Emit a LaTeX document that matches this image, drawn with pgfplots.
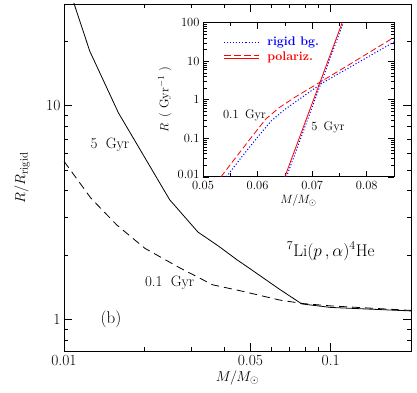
\documentclass[border=0pt]{standalone}
\usepackage{pgfplots}
\pgfplotsset{compat=1.18}
\begin{document}
\begin{tikzpicture}
\useasboundingbox (0pt,0pt) rectangle (417pt,392pt);
\begin{axis}[
  at={(64pt,41pt)}, anchor=south west,
  scale only axis, width=347pt, height=347pt,
  xmode=log, ymode=log,
  xmin=0.01, xmax=0.2, ymin=0.71, ymax=30,
  xtick={0.01,0.05,0.1}, xticklabels={0.01,0.05,0.1},
  minor xtick={0.02,0.03,0.04,0.06,0.07,0.08,0.09},
  ytick={1,10}, yticklabels={1,10},
  minor ytick={0.8,0.9,2,3,4,5,6,7,8,9,20,30},
  tick align=inside,
  major tick length=8.5pt, minor tick length=4.5pt,
  every tick/.style={black, line width=0.7pt},
  axis line style={line width=0.8pt},
  tick label style={font=\fontsize{15.5}{18}\selectfont},
  xticklabel style={yshift=-1pt},
  xlabel={$M/M_\odot$}, ylabel={$R/R_{\mathrm{rigid}}$},
  label style={font=\fontsize{15}{18}\selectfont},
  xlabel style={at={(axis description cs:0.5,-0.078)}, anchor=center},
  ylabel style={at={(axis description cs:-0.121,0.5)}, anchor=center},
]
\addplot[black, line width=0.8pt] coordinates {
(0.0107,32) (0.0109,30.2) (0.0125,18.0) (0.0160,9.27) (0.0249,3.63) (0.0318,2.56)
(0.038,2.2) (0.0445,1.9) (0.05,1.72) (0.0644,1.38) (0.0779,1.18) (0.1,1.136) (0.2,1.094)};
\addplot[black, line width=0.8pt, dash pattern=on 8pt off 5pt] coordinates {
(0.01,5.5) (0.0126,3.70) (0.01575,2.77) (0.0201,2.15) (0.0272,1.74) (0.0361,1.45)
(0.047,1.35) (0.0644,1.23) (0.0785,1.185) (0.1,1.155) (0.2,1.10)};
\node[font=\fontsize{15}{18}\selectfont] at (axis cs:0.01487,6.58) {5\hspace{0.55em}Gyr};
\node[font=\fontsize{15}{18}\selectfont] at (axis cs:0.0249,1.476) {0.1\hspace{0.55em}Gyr};
\node[font=\fontsize{17}{20}\selectfont] at (axis cs:0.015,1.0) {(b)};
\node[font=\fontsize{17}{20}\selectfont] at (axis cs:0.1,2.08) {$^7$Li$(p\,,\alpha)^4$He};
\end{axis}
\begin{axis}[
  at={(203pt,215.2pt)}, anchor=south west,
  scale only axis, width=191pt, height=154.1pt,
  ymode=log,
  xmin=0.05, xmax=0.085, ymin=0.01, ymax=100,
  axis background/.style={fill=white},
  scaled x ticks=false,
  xtick={0.05,0.06,0.07,0.08}, xticklabels={0.05,0.06,0.07,0.08},
  minor xtick={0.055,0.065,0.075},
  ytick={0.01,0.1,1,10,100}, yticklabels={\raisebox{4pt}{0.01},0.1,1,10,100},
  minor ytick={0.02,0.03,0.04,0.05,0.06,0.07,0.08,0.09,0.2,0.3,0.4,0.5,0.6,0.7,0.8,0.9,2,3,4,5,6,7,8,9,20,30,40,50,60,70,80,90},
  tick align=inside,
  major tick length=6pt, minor tick length=3.5pt,
  every tick/.style={black, line width=0.6pt},
  axis line style={line width=0.8pt},
  tick label style={font=\fontsize{12.5}{15}\selectfont},
  xticklabel style={yshift=-0.5pt},
  xlabel={$M/M_\odot$}, ylabel={$R$ \,( Gyr$^{-1}$ )},
  label style={font=\fontsize{12.5}{15}\selectfont},
  xlabel style={at={(axis description cs:0.5,-0.155)}, anchor=center},
  ylabel style={at={(axis description cs:-0.2,0.5)}, anchor=center},
  legend style={at={(axis description cs:0.105,0.915)}, anchor=north west, draw=none, fill=none,
    font=\fontsize{12.5}{15}\selectfont, inner sep=0pt, row sep=3pt, column sep=7pt,
    nodes={inner sep=1pt}},
  legend cell align=left,
]
\addlegendimage{legend image code/.code={\draw[blue, line width=1pt, dash pattern=on 1.1pt off 2pt] (0pt,0pt)--(35pt,0pt);}}
\addlegendentry{\textcolor{blue}{\bfseries rigid bg.}}
\addlegendimage{legend image code/.code={\draw[red, line width=0.8pt, dash pattern=on 7pt off 3pt] (0pt,1.5pt)--(35pt,1.5pt); \draw[red, line width=0.8pt] (0pt,-1.3pt)--(35pt,-1.3pt);}}
\addlegendentry{\textcolor{red}{\bfseries polariz.}}
\addplot[blue, line width=1pt, dash pattern=on 1.1pt off 2pt, forget plot] coordinates {
(0.0543,0.01) (0.0570,0.0316) (0.0600,0.107) (0.0625,0.282) (0.0650,0.562) (0.0680,1.12)
(0.0718,2.69) (0.0770,7.08) (0.0850,31.6)};
\addplot[red, line width=0.8pt, dash pattern=on 6pt off 3pt, forget plot] coordinates {
(0.0533,0.01) (0.0560,0.0316) (0.0590,0.112) (0.0615,0.316) (0.0640,0.631) (0.0670,1.20)
(0.0716,2.95) (0.0770,8.51) (0.0850,41.7)};
\addplot[blue, line width=1pt, dash pattern=on 1.1pt off 2pt, forget plot] coordinates {
(0.0653,0.01) (0.0757,100)};
\addplot[red, line width=0.8pt, forget plot] coordinates {
(0.0650,0.01) (0.0755,100)};
\node[font=\fontsize{12.5}{15}\selectfont] at (axis cs:0.0576,0.4) {0.1\hspace{0.5em}Gyr};
\node[font=\fontsize{12.5}{15}\selectfont] at (axis cs:0.0729,0.197) {5\hspace{0.5em}Gyr};
\end{axis}
\end{tikzpicture}
\end{document}
